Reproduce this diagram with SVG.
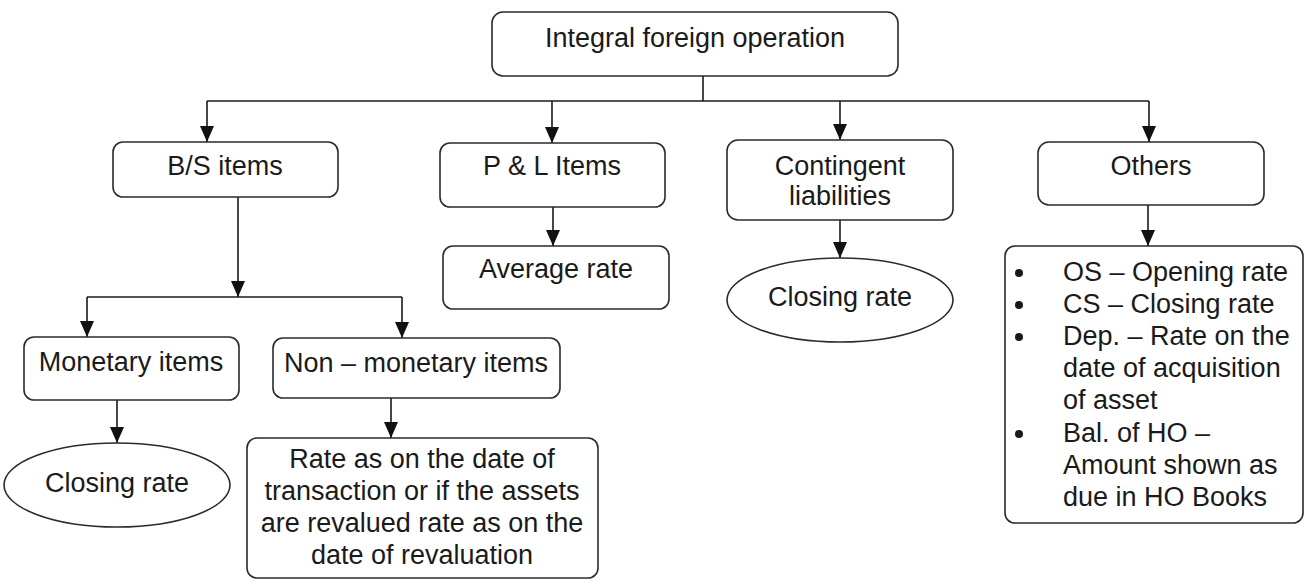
<svg xmlns="http://www.w3.org/2000/svg" width="1306" height="581" viewBox="0 0 1306 581">
  <style>
    .box { fill: #ffffff; stroke: #2b2b2b; stroke-width: 1.6; }
    .wire { fill: none; stroke: #1a1a1a; stroke-width: 1.6; }
    .lbl { font-family: "Liberation Sans", Arial, sans-serif; font-size: 27px; fill: #1a1a1a; }
    .mid { text-anchor: middle; }
    .dot { fill: #1a1a1a; }
  </style>
  <defs>
    <marker id="arrow" viewBox="0 0 16 14" refX="16" refY="7" markerWidth="16" markerHeight="14" markerUnits="userSpaceOnUse" orient="auto">
      <path d="M0,0 L16,7 L0,14 z" fill="#111111"/>
    </marker>
  </defs>
  <rect width="1306" height="581" fill="#ffffff"/>

  <!-- connectors -->
  <g id="connectors">
    <path class="wire" d="M703,76 V101"/>
    <path class="wire" d="M207,101 H1149"/>
    <path class="wire" d="M207,101 V142" marker-end="url(#arrow)"/>
    <path class="wire" d="M552,101 V143" marker-end="url(#arrow)"/>
    <path class="wire" d="M840,101 V140" marker-end="url(#arrow)"/>
    <path class="wire" d="M1149,101 V142" marker-end="url(#arrow)"/>
    <path class="wire" d="M238,197 V297" marker-end="url(#arrow)"/>
    <path class="wire" d="M87,297 H402"/>
    <path class="wire" d="M87,297 V337" marker-end="url(#arrow)"/>
    <path class="wire" d="M402,297 V338" marker-end="url(#arrow)"/>
    <path class="wire" d="M117,400 V443" marker-end="url(#arrow)"/>
    <path class="wire" d="M391,398 V438" marker-end="url(#arrow)"/>
    <path class="wire" d="M553,207 V246" marker-end="url(#arrow)"/>
    <path class="wire" d="M840,220 V258" marker-end="url(#arrow)"/>
    <path class="wire" d="M1148,205 V246" marker-end="url(#arrow)"/>
  </g>

  <g id="integral">
    <rect class="box" x="492" y="12" width="406" height="64" rx="11"/>
    <text class="lbl mid" x="695" y="47">Integral foreign operation</text>
  </g>

  <g id="bs-items">
    <rect class="box" x="113" y="142" width="225" height="55" rx="10"/>
    <text class="lbl mid" x="225" y="175">B/S items</text>
  </g>

  <g id="pl-items">
    <rect class="box" x="440" y="143" width="225" height="64" rx="10"/>
    <text class="lbl mid" x="552" y="175">P &amp; L Items</text>
  </g>

  <g id="contingent">
    <rect class="box" x="727" y="140" width="226" height="80" rx="11"/>
    <text class="lbl mid" x="840" y="175">Contingent</text>
    <text class="lbl mid" x="840" y="205">liabilities</text>
  </g>

  <g id="others">
    <rect class="box" x="1038" y="142" width="226" height="63" rx="11"/>
    <text class="lbl mid" x="1151" y="175">Others</text>
  </g>

  <g id="average-rate">
    <rect class="box" x="443" y="246" width="226" height="63" rx="10"/>
    <text class="lbl mid" x="556" y="278">Average rate</text>
  </g>

  <g id="closing-rate-contingent">
    <ellipse class="box" cx="840" cy="300" rx="113" ry="42"/>
    <text class="lbl mid" x="840" y="306">Closing rate</text>
  </g>

  <g id="others-list">
    <rect class="box" x="1005" y="246" width="298" height="277" rx="10"/>
    <circle class="dot" cx="1019" cy="273" r="4"/>
    <circle class="dot" cx="1019" cy="305" r="4"/>
    <circle class="dot" cx="1019" cy="337" r="4"/>
    <circle class="dot" cx="1019" cy="434" r="4"/>
    <text class="lbl" x="1063" y="281">OS – Opening rate</text>
    <text class="lbl" x="1063" y="313">CS – Closing rate</text>
    <text class="lbl" x="1063" y="345">Dep. – Rate on the</text>
    <text class="lbl" x="1063" y="377">date of acquisition</text>
    <text class="lbl" x="1063" y="409">of asset</text>
    <text class="lbl" x="1063" y="442">Bal. of HO –</text>
    <text class="lbl" x="1063" y="474">Amount shown as</text>
    <text class="lbl" x="1063" y="506">due in HO Books</text>
  </g>

  <g id="monetary">
    <rect class="box" x="24" y="337" width="215" height="63" rx="10"/>
    <text class="lbl mid" x="131" y="371">Monetary items</text>
  </g>

  <g id="non-monetary">
    <rect class="box" x="273" y="338" width="287" height="60" rx="10"/>
    <text class="lbl mid" x="416" y="372">Non – monetary items</text>
  </g>

  <g id="closing-rate-monetary">
    <ellipse class="box" cx="117" cy="485" rx="113" ry="42"/>
    <text class="lbl mid" x="117" y="492">Closing rate</text>
  </g>

  <g id="non-monetary-rate">
    <rect class="box" x="247" y="438" width="351" height="140" rx="10"/>
    <text class="lbl mid" x="422" y="468">Rate as on the date of</text>
    <text class="lbl mid" x="422" y="500">transaction or if the assets</text>
    <text class="lbl mid" x="422" y="532">are revalued rate as on the</text>
    <text class="lbl mid" x="422" y="564">date of revaluation</text>
  </g>
</svg>
